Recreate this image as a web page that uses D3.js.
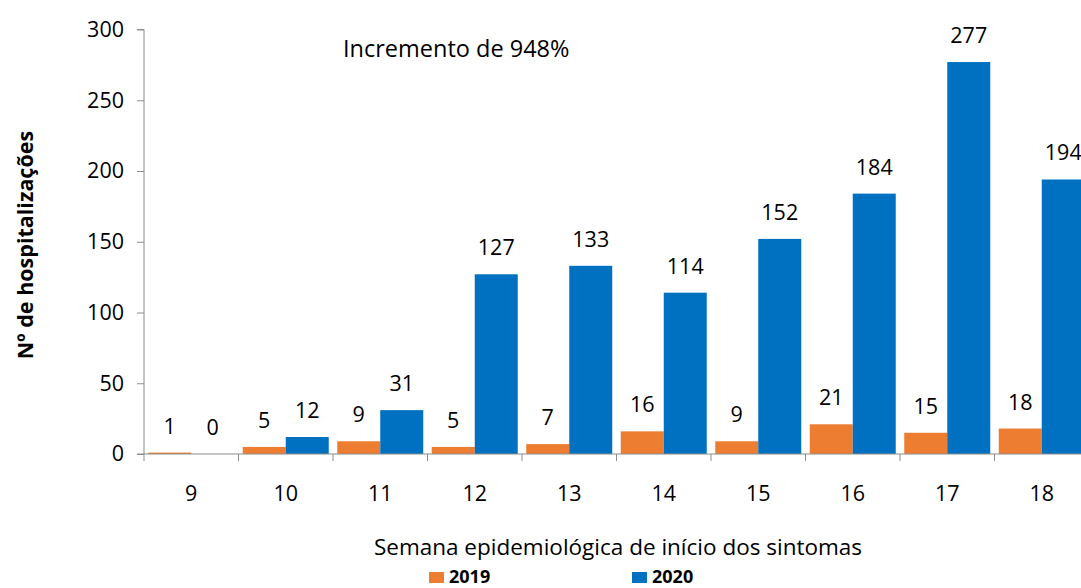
<!DOCTYPE html>
<html>
<head>
<meta charset="utf-8">
<script src="https://cdn.jsdelivr.net/npm/d3@7"></script>
<style>
  body { margin: 0; background: #fff; }
  svg { display: block; font-family: "Open Sans", sans-serif; }
</style>
</head>
<body>
<svg width="1081" height="588"></svg>
<script>
const weeks = ['9', '10', '11', '12', '13', '14', '15', '16', '17', '18'];
const years = ['2019', '2020'];
const cases2019 = [1, 5, 9, 5, 7, 16, 9, 21, 15, 18];
const cases2020 = [0, 12, 31, 127, 133, 114, 152, 184, 277, 194];
const yTicks = [0, 50, 100, 150, 200, 250, 300];

const svg = d3.select('svg');
const margin = { top: 29.5, left: 144, bottom: 134 };
const height = +svg.attr('height') - margin.top - margin.bottom;
const bandW = 94.5;
const colors = { '2019': '#ED7D31', '2020': '#0070C0' };
const font = '"Open Sans", sans-serif';
const fs = 21.5;

const rows = weeks.map((w, i) => ({ week: w, '2019': cases2019[i], '2020': cases2020[i] }));

const x = d3.scaleBand().domain(weeks).range([0, bandW * weeks.length]).paddingInner(0.09).paddingOuter(0.045);
const x1 = d3.scaleBand().domain(years).range([0, x.bandwidth()]);
const y = d3.scaleLinear().domain([0, 300]).range([height, 0]);

const g = svg.append('g').attr('transform', `translate(${margin.left},${margin.top})`);

// y axis
const yAxis = g.append('g').call(d3.axisLeft(y).tickValues(yTicks).tickSize(7).tickPadding(13));
yAxis.select('.domain').attr('stroke', '#8c8c8c').attr('d', `M-7,${height}H0V0H-7`);
yAxis.selectAll('.tick line').attr('stroke', '#8c8c8c');
yAxis.selectAll('.tick text').attr('font-size', fs).attr('fill', '#000').attr('font-family', font);

// bars
const groups = g.selectAll('.grp').data(rows).join('g')
  .attr('transform', d => `translate(${x(d.week)},0)`);

groups.selectAll('rect').data(d => years.map(k => ({ key: k, value: d[k] }))).join('rect')
  .attr('x', d => x1(d.key))
  .attr('y', d => y(d.value))
  .attr('width', x1.bandwidth())
  .attr('height', d => height - y(d.value))
  .attr('fill', d => colors[d.key]);

groups.selectAll('text').data(d => years.map(k => ({ key: k, value: d[k] }))).join('text')
  .attr('x', d => x1(d.key) + x1.bandwidth() / 2)
  .attr('y', d => y(d.value) - 19)
  .attr('text-anchor', 'middle')
  .attr('font-size', fs)
  .text(d => d.value);

// x axis
const xAxis = g.append('g').attr('transform', `translate(0,${height})`)
  .call(d3.axisBottom(x).tickSize(0).tickPadding(32));
xAxis.select('.domain').attr('stroke', '#8c8c8c').attr('d', `M0,0H${bandW * weeks.length}`);
xAxis.selectAll('.tick text').attr('font-size', fs).attr('fill', '#000').attr('font-family', font);
xAxis.selectAll('.sep').data(d3.range(weeks.length + 1)).join('line')
  .attr('x1', i => i * bandW).attr('x2', i => i * bandW)
  .attr('y1', 0).attr('y2', 7)
  .attr('stroke', '#8c8c8c');

// annotation
svg.append('text').attr('x', 343).attr('y', 57).attr('font-size', 23.5).text('Incremento de 948%');

// axis titles
svg.append('text')
  .attr('transform', 'translate(33,245) rotate(-90)')
  .attr('text-anchor', 'middle')
  .attr('font-size', 21.5).attr('font-weight', 'bold')
  .text('Nº de hospitalizações');

svg.append('text').attr('x', 618).attr('y', 555).attr('text-anchor', 'middle')
  .attr('font-size', 22.5).text('Semana epidemiológica de início dos sintomas');

// legend
const legend = svg.append('g').selectAll('g').data(years).join('g')
  .attr('transform', (d, i) => `translate(${429 + i * 203},572)`);
legend.append('rect').attr('width', 15).attr('height', 11).attr('fill', d => colors[d]);
legend.append('text').attr('x', 20).attr('y', 10.5).attr('font-size', 18).attr('font-weight', 'bold').text(d => d);
</script>
</body>
</html>
